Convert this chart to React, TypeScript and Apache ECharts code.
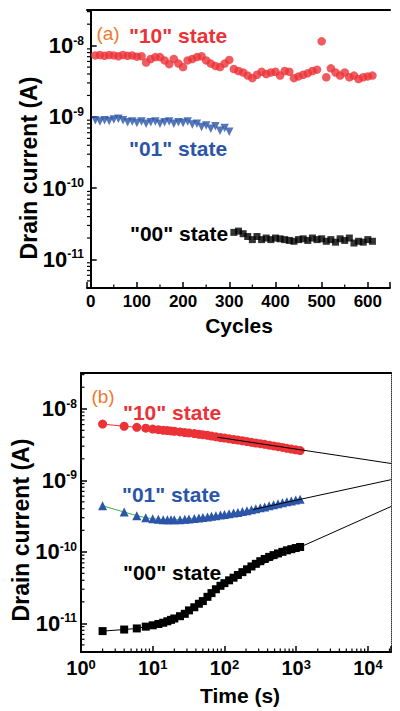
import React, { useEffect, useRef } from "react";
import * as echarts from "echarts";

// ---------- Panel (a): retention vs. cycles ----------
const cyclesRed = [
  10, 20, 30, 40, 50, 60, 70, 80, 90, 100, 110, 120, 130, 140, 150, 160, 170, 180, 190, 200,
  210, 220, 230, 240, 250, 260, 270, 280, 290, 300, 310, 320, 330, 340, 350, 360, 370, 380, 390, 400,
  410, 420, 430, 440, 450, 460, 470, 480, 490, 500, 510, 520, 530, 540, 550, 560, 570, 580, 590, 600, 610,
];
const state10a = [
  7.3e-9, 7.4e-9, 7.2e-9, 7.4e-9, 7.3e-9, 7.1e-9, 7.4e-9, 7.2e-9, 7.3e-9, 7.0e-9, 7.1e-9,
  5.8e-9, 6.5e-9, 6.9e-9, 6.9e-9, 6.2e-9, 5.5e-9, 6.5e-9, 5.6e-9, 5.0e-9, 6.2e-9, 6.5e-9, 6.9e-9,
  7.1e-9, 6.2e-9, 5.6e-9, 5.2e-9, 5.0e-9, 5.6e-9, 6.3e-9,
  4.7e-9, 4.4e-9, 4.2e-9, 3.8e-9, 3.5e-9, 3.9e-9, 4.3e-9, 4.0e-9, 4.2e-9, 4.3e-9, 3.8e-9,
  4.4e-9, 4.3e-9, 3.5e-9, 3.7e-9, 3.9e-9, 4.1e-9, 4.4e-9, 4.6e-9, 1.15e-8, 3.6e-9, 4.8e-9,
  4.2e-9, 3.8e-9, 4.2e-9, 3.6e-9, 3.8e-9, 3.4e-9, 3.6e-9, 3.7e-9, 3.8e-9,
];
const cyclesBlue = [
  10, 20, 30, 40, 50, 60, 70, 80, 90, 100, 110, 120, 130, 140, 150, 160, 170, 180, 190, 200,
  210, 220, 230, 240, 250, 260, 270, 280, 290, 300,
];
const state01a = [
  9.0e-10, 8.6e-10, 9.0e-10, 8.8e-10, 9.2e-10, 9.4e-10, 9.0e-10, 8.4e-10, 8.6e-10, 8.2e-10,
  8.6e-10, 8.0e-10, 8.4e-10, 8.6e-10, 8.0e-10, 8.4e-10, 8.6e-10, 8.0e-10, 8.4e-10, 8.2e-10,
  8.6e-10, 7.8e-10, 8.0e-10, 7.2e-10, 7.6e-10, 6.8e-10, 7.4e-10, 6.4e-10, 7.0e-10, 6.2e-10,
];
const cyclesBlack = [
  310, 320, 330, 340, 350, 360, 370, 380, 390, 400, 410, 420, 430, 440, 450, 460, 470, 480, 490, 500,
  510, 520, 530, 540, 550, 560, 570, 580, 590, 600, 610,
];
const state00a = [
  2.4e-11, 2.5e-11, 2.3e-11, 2.1e-11, 1.9e-11, 2.1e-11, 1.9e-11, 2.0e-11, 1.9e-11, 2.0e-11,
  1.95e-11, 1.9e-11, 1.85e-11, 1.8e-11, 1.9e-11, 1.95e-11, 1.85e-11, 2.0e-11, 1.9e-11, 1.95e-11,
  1.8e-11, 1.9e-11, 1.75e-11, 1.95e-11, 1.85e-11, 2.0e-11, 1.7e-11, 1.8e-11, 1.75e-11, 1.9e-11, 1.8e-11,
];

// ---------- Panel (b): retention vs. time ----------
const timeS = [
  2, 4, 6, 8, 10, 12, 14, 16, 18, 20, 24, 28, 32, 38, 44, 50, 58, 66, 76, 88,
  100, 116, 134, 154, 178, 206, 238, 274, 316, 364, 420, 484, 558, 644, 742, 856, 986, 1136,
];
const state10b = [
  6.1e-9, 5.7e-9, 5.5e-9, 5.35e-9, 5.2e-9, 5.1e-9, 5.0e-9, 4.95e-9, 4.9e-9, 4.85e-9,
  4.75e-9, 4.65e-9, 4.6e-9, 4.5e-9, 4.4e-9, 4.35e-9, 4.25e-9, 4.15e-9, 4.05e-9, 3.95e-9,
  3.9e-9, 3.8e-9, 3.72e-9, 3.65e-9, 3.57e-9, 3.48e-9, 3.4e-9, 3.32e-9, 3.25e-9, 3.18e-9,
  3.1e-9, 3.02e-9, 2.95e-9, 2.88e-9, 2.8e-9, 2.73e-9, 2.67e-9, 2.6e-9,
];
const state01b = [
  4.4e-10, 3.6e-10, 3.2e-10, 3.0e-10, 2.9e-10, 2.85e-10, 2.82e-10, 2.8e-10, 2.8e-10, 2.8e-10,
  2.82e-10, 2.85e-10, 2.88e-10, 2.93e-10, 2.98e-10, 3.03e-10, 3.08e-10, 3.14e-10, 3.2e-10, 3.27e-10,
  3.33e-10, 3.4e-10, 3.48e-10, 3.56e-10, 3.65e-10, 3.76e-10, 3.88e-10, 4.0e-10, 4.12e-10, 4.25e-10,
  4.4e-10, 4.55e-10, 4.7e-10, 4.85e-10, 5.0e-10, 5.15e-10, 5.3e-10, 5.45e-10,
];
const state00b = [
  7.8e-12, 8.2e-12, 8.5e-12, 9.0e-12, 9.4e-12, 9.8e-12, 1.02e-11, 1.07e-11, 1.12e-11, 1.17e-11,
  1.26e-11, 1.36e-11, 1.52e-11, 1.68e-11, 1.88e-11, 2.05e-11, 2.35e-11, 2.65e-11, 3.0e-11, 3.35e-11,
  3.65e-11, 4.0e-11, 4.35e-11, 4.75e-11, 5.2e-11, 5.7e-11, 6.25e-11, 6.8e-11, 7.4e-11, 7.95e-11,
  8.5e-11, 9.0e-11, 9.5e-11, 1.0e-10, 1.05e-10, 1.09e-10, 1.13e-10, 1.17e-10,
];
// extrapolated power-law fits [time, current]
const fit10 = [[80, 4.0e-9], [2.1e4, 1.72e-9]];
const fit01 = [[250, 3.9e-10], [2.1e4, 1.02e-9]];
const fit00 = [[150, 4.7e-11], [2.1e4, 4.3e-10]];

const Y_MIN = 3.98e-12;
const Y_MAX = 3.162e-8;
const T_MIN = 1;
const T_MAX = 2.1e4;
const C_MIN = -8;
const C_MAX = 648;

const FONT = "'Liberation Sans', Arial, Helvetica, sans-serif";
const RED = "#ec3237";
const BLUE = "#2b55a8";
const ORANGE = "#f0782d";
const GREEN = "#3cb043";

const pow10Label = (v: number) => {
  const e = Math.round(Math.log10(v));
  if (Math.abs(Math.log10(v) - e) > 1e-6) return "";
  return `{b|10}{s|${e}}`;
};

export default function App() {
  const ref = useRef<HTMLDivElement>(null);
  useEffect(() => {
    if (!ref.current) return;
    const chart = echarts.init(ref.current, undefined, { renderer: "svg" });

    const logRich = (big: number, small: number) => ({
      b: { fontSize: big, fontWeight: "bold", fontFamily: FONT, color: "#000" },
      s: { fontSize: small, fontWeight: "bold", fontFamily: FONT, color: "#000", verticalAlign: "top" },
    });

    // minor ticks for log axes (2..9 x 10^n)
    const yMinorA: number[][] = [];
    const yMinorB: number[][] = [];
    for (let n = -12; n <= -8; n++) {
      for (let k = 2; k <= 9; k++) {
        const v = k * Math.pow(10, n);
        if (v > Y_MIN && v < Y_MAX) {
          yMinorA.push([C_MIN, v, 0]);
          yMinorB.push([T_MIN, v, 0]);
        }
      }
    }
    const xMinorB: number[][] = [];
    for (let n = 0; n <= 4; n++) {
      for (let k = 2; k <= 9; k++) {
        const v = k * Math.pow(10, n);
        if (v > T_MIN && v < T_MAX) xMinorB.push([v, Y_MIN, 1]);
      }
    }
    const xMinorA = [50, 150, 250, 350, 450, 550].map((c) => [c, Y_MIN, 1]);

    const tickRender = (params: any, api: any) => {
      const p = api.coord([api.value(0), api.value(1)]);
      const horiz = api.value(2) === 0;
      return {
        type: "line",
        shape: horiz
          ? { x1: p[0], y1: p[1], x2: p[0] + 3.5, y2: p[1] }
          : { x1: p[0], y1: p[1], x2: p[0], y2: p[1] - 3.5 },
        style: { stroke: "#000", lineWidth: 1.2 },
      };
    };

    const axisLineStyle = { show: true, lineStyle: { color: "#000", width: 2 } };
    const majorTick = { show: true, inside: true, length: 6, lineStyle: { color: "#000", width: 1.5 } };

    const textEl = (x: number, y: number, text: string, fill: string, size: number, weight = "bold", rotation = 0) => ({
      type: "text",
      x,
      y,
      rotation,
      style: {
        text,
        fill,
        font: `${weight} ${size}px ${FONT}`,
        align: "center",
        verticalAlign: "middle",
        textAlign: "center",
        textVerticalAlign: "middle",
      },
    });

    chart.setOption({
      animation: false,
      backgroundColor: "#fff",
      grid: [
        { left: 87, top: 10, width: 303, height: 278, show: false },
        { left: 81, top: 373, width: 310, height: 279, show: false },
      ],
      xAxis: [
        {
          gridIndex: 0,
          type: "value",
          min: C_MIN,
          max: C_MAX,
          position: "bottom",
          axisLine: axisLineStyle,
          axisTick: majorTick,
          splitLine: { show: false },
          axisLabel: {
            formatter: (v: number) => (v >= 0 && v % 100 === 0 ? String(v) : ""),
            fontSize: 17,
            fontWeight: "bold",
            fontFamily: FONT,
            color: "#000",
            margin: 5,
          },
        },
        {
          gridIndex: 0,
          type: "value",
          min: C_MIN,
          max: C_MAX,
          position: "top",
          axisLine: axisLineStyle,
          axisTick: { show: false },
          axisLabel: { show: false },
          splitLine: { show: false },
        },
        {
          gridIndex: 1,
          type: "log",
          logBase: 10,
          min: T_MIN,
          max: T_MAX,
          position: "bottom",
          axisLine: axisLineStyle,
          axisTick: majorTick,
          splitLine: { show: false },
          axisLabel: {
            formatter: pow10Label,
            rich: logRich(20, 13),
            margin: 6,
          },
        },
        {
          gridIndex: 1,
          type: "log",
          logBase: 10,
          min: T_MIN,
          max: T_MAX,
          position: "top",
          axisLine: axisLineStyle,
          axisTick: { show: false },
          axisLabel: { show: false },
          splitLine: { show: false },
        },
      ],
      yAxis: [
        {
          gridIndex: 0,
          type: "log",
          logBase: 10,
          min: Y_MIN,
          max: Y_MAX,
          position: "left",
          axisLine: axisLineStyle,
          axisTick: majorTick,
          splitLine: { show: false },
          axisLabel: { formatter: pow10Label, rich: logRich(22, 12), margin: 3 },
        },
        {
          gridIndex: 0,
          type: "log",
          logBase: 10,
          min: Y_MIN,
          max: Y_MAX,
          position: "right",
          axisLine: axisLineStyle,
          axisTick: { show: false },
          axisLabel: { show: false },
          splitLine: { show: false },
        },
        {
          gridIndex: 1,
          type: "log",
          logBase: 10,
          min: Y_MIN,
          max: Y_MAX,
          position: "left",
          axisLine: axisLineStyle,
          axisTick: majorTick,
          splitLine: { show: false },
          axisLabel: { formatter: pow10Label, rich: logRich(22, 12), margin: 4 },
        },
        {
          gridIndex: 1,
          type: "log",
          logBase: 10,
          min: Y_MIN,
          max: Y_MAX,
          position: "right",
          axisLine: { show: true, lineStyle: { color: "#333", width: 1, type: "dotted" } },
          axisTick: { show: false },
          axisLabel: { show: false },
          splitLine: { show: false },
        },
      ],
      series: [
        {
          name: '"10" state',
          type: "scatter",
          xAxisIndex: 0,
          yAxisIndex: 0,
          symbol: "circle",
          symbolSize: 8.5,
          itemStyle: { color: RED },
          data: cyclesRed.map((c, i) => [c, state10a[i]]),
        },
        {
          name: '"01" state',
          type: "scatter",
          xAxisIndex: 0,
          yAxisIndex: 0,
          symbol: "triangle",
          symbolRotate: 180,
          symbolSize: 8.5,
          itemStyle: { color: BLUE },
          data: cyclesBlue.map((c, i) => [c, state01a[i]]),
        },
        {
          name: '"00" state',
          type: "scatter",
          xAxisIndex: 0,
          yAxisIndex: 0,
          symbol: "rect",
          symbolSize: 7,
          itemStyle: { color: "#000" },
          data: cyclesBlack.map((c, i) => [c, state00a[i]]),
        },
        {
          name: '"10" state (t)',
          type: "line",
          xAxisIndex: 2,
          yAxisIndex: 2,
          symbol: "circle",
          symbolSize: 9,
          showAllSymbol: true,
          lineStyle: { color: RED, width: 1 },
          itemStyle: { color: RED },
          data: timeS.map((t, i) => [t, state10b[i]]),
        },
        {
          name: '"01" state (t)',
          type: "line",
          xAxisIndex: 2,
          yAxisIndex: 2,
          symbol: "triangle",
          symbolSize: 9,
          showAllSymbol: true,
          lineStyle: { color: GREEN, width: 1 },
          itemStyle: { color: BLUE },
          data: timeS.map((t, i) => [t, state01b[i]]),
        },
        {
          name: '"00" state (t)',
          type: "line",
          xAxisIndex: 2,
          yAxisIndex: 2,
          symbol: "rect",
          symbolSize: 8,
          showAllSymbol: true,
          lineStyle: { color: "#000", width: 1 },
          itemStyle: { color: "#000" },
          data: timeS.map((t, i) => [t, state00b[i]]),
        },
        ...[fit10, fit01, fit00].map((d, i) => ({
          name: `fit${i}`,
          type: "line",
          xAxisIndex: 2,
          yAxisIndex: 2,
          symbol: "none",
          lineStyle: { color: "#000", width: 1 },
          z: 5,
          data: d,
        })),
        {
          type: "custom",
          xAxisIndex: 0,
          yAxisIndex: 0,
          silent: true,
          z: 6,
          renderItem: tickRender,
          encode: { x: 0, y: 1 },
          data: [...yMinorA, ...xMinorA],
        },
        {
          type: "custom",
          xAxisIndex: 2,
          yAxisIndex: 2,
          silent: true,
          z: 6,
          renderItem: tickRender,
          encode: { x: 0, y: 1 },
          data: [...yMinorB, ...xMinorB],
        },
      ],
      graphic: [
        textEl(108, 33, "(a)", ORANGE, 19, "normal"),
        textEl(178, 35, '"10" state', RED, 21),
        textEl(178, 148, '"01" state', BLUE, 21),
        textEl(179, 233, '"00" state', "#000", 21),
        textEl(239, 325, "Cycles", "#000", 21),
        textEl(29, 168, "Drain current (A)", "#000", 23, "bold", Math.PI / 2),
        textEl(103, 396, "(b)", ORANGE, 19, "normal"),
        textEl(172, 412, '"10" state', RED, 21),
        textEl(171, 494, '"01" state', BLUE, 21),
        textEl(172, 572, '"00" state', "#000", 21),
        textEl(240, 695, "Time (s)", "#000", 21),
        textEl(21, 530, "Drain current (A)", "#000", 23, "bold", Math.PI / 2),
      ],
    });
    return () => chart.dispose();
  }, []);
  return (
    <div
      ref={ref}
      style={{ position: "fixed", left: 0, top: 0, width: 400, height: 711, background: "#fff" }}
    />
  );
}
